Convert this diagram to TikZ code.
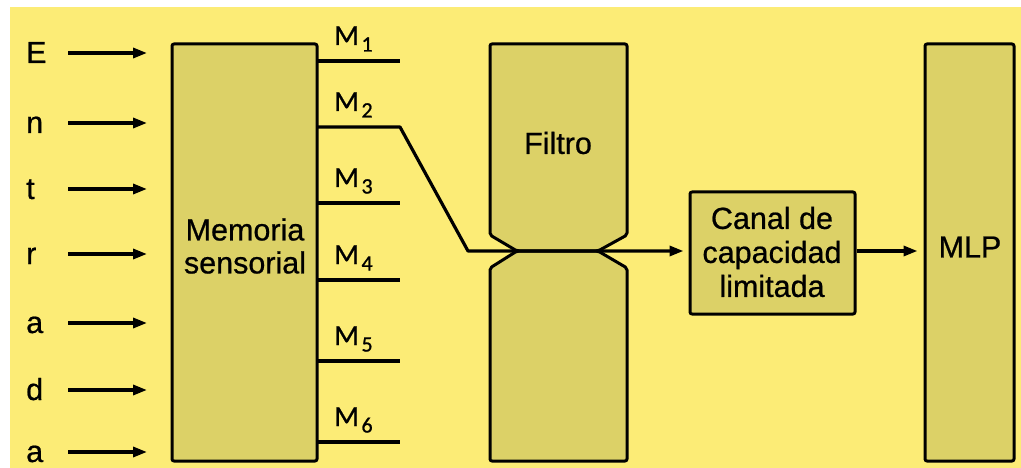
\documentclass[tikz,border=0pt]{standalone}
\usepackage{fontspec}
\setmainfont[FakeBold=0.7]{Liberation Sans}
\newfontfamily\labelfont[FakeBold=0.9]{Carlito}
\usetikzlibrary{arrows.meta}
\definecolor{bgyellow}{RGB}{252,236,118}
\definecolor{boxfill}{RGB}{220,209,103}
\newcommand{\memlabel}[1]{M\kern2.5pt\raisebox{-6.5pt}{\fontsize{22}{22}\selectfont #1}}

\begin{document}
\begin{tikzpicture}[x=1pt,y=-1pt,line join=round,
  blk/.style={draw=black,line width=3pt,fill=boxfill,rounded corners=2pt,inner sep=0pt},
  wire/.style={line width=3.2pt},
  arr/.style={wire,-{Triangle[length=14pt,width=10pt]}},
  txt/.style={font=\fontsize{30.5}{33}\selectfont,inner sep=0pt,align=center},
  letter/.style={font=\fontsize{30.5}{33}\selectfont,inner sep=0pt,anchor=base west},
  mlab/.style={font=\labelfont\fontsize{29}{29}\selectfont,inner sep=0pt,anchor=base west}]

% page and background
\useasboundingbox (0,0) rectangle (1021,468);
\fill[white] (0,0) rectangle (1021,468);
\fill[bgyellow] (10,7) rectangle (1021,468);

% main blocks
\node[blk,minimum width=145pt,minimum height=417pt] (mem) at (244.5,252.5) {};
\node[txt] (memtxt) at (245,246) {Memoria\\sensorial};

\node[blk,minimum width=165pt,minimum height=122pt] (canal) at (772.5,253) {};
\node[txt,font=\fontsize{30.5}{34}\selectfont] (canaltxt) at (772,252) {Canal de\\capacidad\\limitada};

\node[blk,minimum width=89pt,minimum height=417pt] (mlp) at (969.5,252.5) {};
\node[txt] (mlptxt) at (970,247) {MLP};

% filter: two blocks pinched together around the passing channel
\coordinate (pinL) at (517,251);
\coordinate (pinR) at (598,251);
\draw[blk] (490,44) -- (627,44) -- (627,235) -- (pinR) -- (pinL) -- (490,235) -- cycle;
\draw[blk] (490,461) -- (490,268) -- (pinL) -- (pinR) -- (627,268) -- (627,461) -- cycle;
\node[txt] (filtro) at (558,143) {Filtro};

% input letters and arrows
\foreach \y/\c/\k in {53/E/1,123/n/2,189/t/3,254/r/4,323/a/5,390/d/6,452/a/7} {
  \node[letter] (in\k) at (26,\y+10) {\c};
  \coordinate (s\k) at (68,\y);
  \coordinate (e\k) at (147,\y);
  \draw[arr] (s\k) -- (e\k);
}

% sensory memory outputs
\foreach \y/\n in {61/1,127/2,203/3,280/4,361/5,442/6} {
  \coordinate (m\n) at (317,\y);
  \coordinate (t\n) at (400,\y);
  \node[mlab] (ml\n) at (334,\y-16) {\memlabel{\n}};
}
\foreach \n in {1,3,4,5,6} { \draw[wire] (m\n) -- (t\n); }

% the selected channel passes the filter
\coordinate (bend) at (468,251);
\draw[arr,shorten >=5pt] (m2) -- (t2) -- (bend) -- (pinL) -- (pinR) -- (canal.west |- pinR);
\draw[arr,shorten >=6pt] (canal.east |- pinR) -- (mlp.west |- pinR);
\end{tikzpicture}
\end{document}
